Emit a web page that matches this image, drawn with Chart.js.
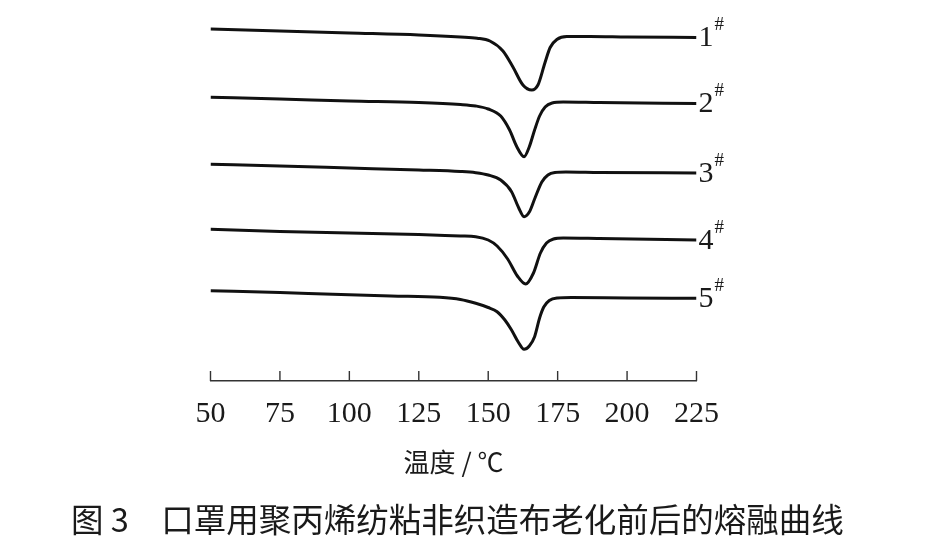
<!DOCTYPE html>
<html>
<head>
<meta charset="utf-8">
<script src="https://cdn.jsdelivr.net/npm/chart.js@4"></script>
<style>
  html, body { margin: 0; padding: 0; background: #ffffff; }
  #wrap { width: 944px; height: 552px; }
</style>
</head>
<body>
<div id="wrap"><canvas id="c" width="944" height="552"></canvas></div>
<script>
// ---- data (temperature in °C, heat flow in arbitrary units, stacked offsets) ----
const seriesNames = ['1', '2', '3', '4', '5'];
const xTickLabels = [50, 75, 100, 125, 150, 175, 200, 225];

const temps1 = [50, 75, 100, 125, 140, 146, 150.6, 155.3, 158.9, 162.5, 165.7, 167.9, 170.4, 172.3, 174.7, 178.3, 186.7, 200, 225];
const heat1  = [35.2, 35.0, 34.8, 34.6, 34.4, 34.28, 34.0, 33.0, 31.4, 29.6, 29.1, 29.6, 31.8, 33.35, 34.15, 34.45, 34.45, 34.4, 34.35];

const temps2 = [50, 75, 100, 125, 140, 145.5, 150, 154.5, 157.7, 160.3, 162.9, 164.8, 166.7, 168.5, 170.5, 173, 177, 190, 225];
const heat2  = [28.37, 28.2, 28.0, 27.85, 27.65, 27.5, 27.2, 26.5, 25.1, 23.43, 22.43, 23.43, 25.1, 26.5, 27.4, 27.8, 27.9, 27.85, 27.75];

const temps3 = [50, 75, 100, 125, 140, 145.5, 150, 154.5, 158.4, 161, 162.9, 164.8, 166.7, 169.3, 171.5, 174, 178, 190, 225];
const heat3  = [21.67, 21.5, 21.3, 21.1, 20.95, 20.83, 20.6, 20.1, 18.93, 17.3, 16.43, 16.9, 18.2, 19.9, 20.6, 20.85, 20.9, 20.85, 20.8];

const temps4 = [50, 75, 100, 125, 140, 145.5, 150, 153.2, 157, 160.5, 163.5, 166.3, 168.8, 171, 173.5, 177, 190, 225];
const heat4  = [15.17, 14.95, 14.8, 14.65, 14.5, 14.43, 14.1, 13.5, 12.2, 10.5, 9.7, 10.8, 12.8, 13.8, 14.2, 14.3, 14.25, 14.1];

const temps5 = [50, 75, 94, 115, 132.6, 140, 145.5, 150, 153.2, 156, 158.4, 160.8, 162.9, 164.8, 166.7, 168.5, 170, 172, 175, 180, 200, 225];
const heat5  = [9.03, 8.85, 8.67, 8.5, 8.37, 8.15, 7.77, 7.35, 6.93, 6.1, 5.1, 3.9, 3.17, 3.5, 4.43, 6.3, 7.4, 8.05, 8.3, 8.35, 8.3, 8.27];

const xTitle = '温度 / ℃';
const caption = '图 3\u3000口罩用聚丙烯纺粘非织造布老化前后的熔融曲线';

// ---- build datasets ----
const allTemps = [temps1, temps2, temps3, temps4, temps5];
const allHeat = [heat1, heat2, heat3, heat4, heat5];
const datasets = allTemps.map((t, i) => ({
  label: seriesNames[i] + '#',
  data: t.map((x, j) => ({ x: x, y: allHeat[i][j] })),
  borderColor: '#111111',
  borderWidth: 3,
  pointRadius: 0,
  fill: false,
  cubicInterpolationMode: 'monotone',
  yAxisID: 'y'
}));

const ink = '#1a1a1a';

const innerTicks = {
  id: 'innerTicks',
  afterDraw(chart) {
    const s = chart.scales.x;
    const ctx = chart.ctx;
    ctx.save();
    ctx.strokeStyle = '#333';
    ctx.lineWidth = 1.4;
    ctx.beginPath();
    s.ticks.forEach(t => {
      const px = s.getPixelForValue(t.value);
      ctx.moveTo(px, s.top);
      ctx.lineTo(px, s.top - 10);
    });
    ctx.stroke();
    ctx.restore();
  }
};

const seriesLabels = {
  id: 'seriesLabels',
  afterDatasetsDraw(chart) {
    const ctx = chart.ctx;
    chart.data.datasets.forEach((ds, i) => {
      const meta = chart.getDatasetMeta(i);
      const pt = meta.data[meta.data.length - 1];
      ctx.save();
      ctx.fillStyle = ink;
      ctx.textAlign = 'left';
      ctx.textBaseline = 'middle';
      ctx.font = '30px "Liberation Serif"';
      const x = pt.x + 2, y = pt.y;
      ctx.fillText(seriesNames[i], x, y + 1);
      const w = ctx.measureText(seriesNames[i]).width;
      ctx.font = '19px "Liberation Serif"';
      ctx.fillText('#', x + w + 1, y - 12);
      ctx.restore();
    });
  }
};

const hiddenAxis = (pos, width) => ({
  type: 'linear',
  position: pos,
  display: true,
  min: 0,
  max: 37,
  ticks: { display: false },
  grid: { display: false, drawTicks: false },
  border: { display: false },
  afterFit(scale) { scale.width = width; }
});

new Chart(document.getElementById('c'), {
  type: 'line',
  data: { datasets: datasets },
  options: {
    responsive: false,
    animation: false,
    devicePixelRatio: 1,
    layout: { padding: { left: 71, right: 0, top: 11, bottom: 0 } },
    plugins: {
      legend: { display: false },
      tooltip: { enabled: false },
      title: {
        display: true,
        position: 'bottom',
        align: 'start',
        text: caption,
        color: ink,
        font: { family: '"Noto Sans CJK SC"', size: 32.5, weight: 'normal', lineHeight: 1.2 },
        padding: { top: 22.5, bottom: 12.5 }
      }
    },
    scales: {
      x: {
        type: 'linear',
        min: 50,
        max: 225,
        afterBuildTicks(scale) { scale.ticks = xTickLabels.map(v => ({ value: v })); },
        afterFit(scale) { scale.height = 97; },
        ticks: {
          color: ink,
          padding: 15,
          maxRotation: 0,
          font: { family: '"Liberation Serif"', size: 30, lineHeight: 1.2 }
        },
        grid: { display: true, drawOnChartArea: false, drawTicks: false },
        border: { display: true, color: '#333', width: 1.4 },
        title: {
          display: true,
          text: xTitle,
          color: ink,
          font: { family: '"Noto Sans CJK SC"', size: 26, weight: 'normal', lineHeight: 1.2 },
          padding: { top: 15, bottom: 0 }
        }
      },
      y: hiddenAxis('left', 139.5),
      yR: hiddenAxis('right', 247.5)
    }
  },
  plugins: [innerTicks, seriesLabels]
});
</script>
</body>
</html>
